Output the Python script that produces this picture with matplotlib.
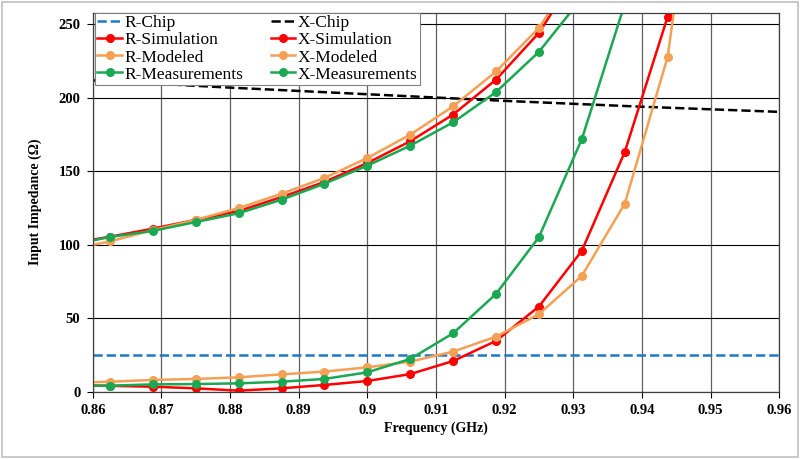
import matplotlib
matplotlib.use("Agg")
import matplotlib.pyplot as plt
from matplotlib.patches import Rectangle

# frequency points (GHz); first point sits just outside the axis and gets clipped
freq = [0.85625, 0.8625, 0.86875, 0.875, 0.88125, 0.8875, 0.89375, 0.9,
        0.90625, 0.9125, 0.91875, 0.925, 0.93125, 0.9375, 0.94375, 0.95]

r_sim = [100.5, 105.5, 111.0, 117.0, 123.0, 132.5, 142.8, 155.7,
         170.5, 188.7, 212.5, 244.3, 290.0, None, None, None]
x_sim = [4.5, 4.0, 3.4, 2.3, 0.7, 2.3, 4.6, 7.3,
         12.0, 20.9, 34.6, 58.0, 96.0, 163.2, 255.3, 400.0]

r_mod = [96.5, 102.3, 110.0, 117.0, 125.0, 134.8, 145.5, 159.1,
         175.0, 194.3, 218.0, 247.7, 292.0, None, None, None]
x_mod = [6.0, 6.8, 8.0, 8.7, 9.8, 11.8, 13.7, 16.6,
         20.5, 27.3, 37.5, 52.8, 78.9, 128.0, 228.0, 440.0]

r_meas = [99.5, 105.3, 109.5, 115.5, 121.5, 130.7, 141.6, 153.9,
          167.5, 183.4, 204.0, 231.4, 268.0, None, None, None]
x_meas = [4.0, 4.1, 5.0, 5.2, 5.7, 6.8, 8.7, 13.2,
          22.3, 39.8, 66.6, 105.3, 172.0, 264.0, None, None]

chip_freq = [0.86, 0.88, 0.90, 0.92, 0.94, 0.96]
r_chip = [25, 25, 25, 25, 25, 25]
x_chip = [212.0, 207.0, 202.5, 198.0, 194.0, 190.5]

RED = "#FF0000"
ORANGE = "#F4A055"
GREEN = "#1AA852"
BLUE = "#1F78C8"

plt.rcParams["font.family"] = ["Liberation Serif", "DejaVu Serif"]

fig = plt.figure(figsize=(8, 4.59), dpi=100)
ax = fig.add_axes([0.116, 0.1466, 0.858, 0.8257])


def clean(xs, ys):
    pts = [(a, b) for a, b in zip(xs, ys) if b is not None]
    return [p[0] for p in pts], [p[1] for p in pts]


ax.plot(chip_freq, r_chip, ls="--", color=BLUE, lw=1.8, label="R-Chip")
ax.plot(chip_freq, x_chip, ls="--", color="black", lw=1.8, label="X-Chip")

series = [
    (r_sim, RED, "R-Simulation"), (x_sim, RED, "X-Simulation"),
    (r_mod, ORANGE, "R-Modeled"), (x_mod, ORANGE, "X-Modeled"),
    (r_meas, GREEN, "R-Measurements"), (x_meas, GREEN, "X-Measurements"),
]
for vals, col, name in series:
    fx, fy = clean(freq, vals)
    ax.plot(fx, fy, color=col, lw=1.8, marker="o", ms=5.5, label=name)

ax.set_xlim(0.86, 0.96)
ax.set_ylim(0, 258)
ax.set_xticks([0.86 + 0.01 * i for i in range(11)])
ax.set_xticklabels(["0.86", "0.87", "0.88", "0.89", "0.9", "0.91", "0.92",
                    "0.93", "0.94", "0.95", "0.96"])
ax.set_yticks([0, 50, 100, 150, 200, 250])
ax.grid(True, axis="y", color="black", lw=0.8)
ax.grid(True, axis="x", color="#606060", lw=0.9)
ax.set_axisbelow(True)
ax.tick_params(direction="out", length=4, width=0.8, labelsize=10.5, pad=5)
for lab in ax.get_xticklabels() + ax.get_yticklabels():
    lab.set_fontweight("bold")
for sp in ax.spines.values():
    sp.set_color("#404040")
    sp.set_linewidth(0.9)

ax.set_xlabel("Frequency (GHz)", fontsize=10, fontweight="bold", labelpad=3)
ax.set_ylabel("Input Impedance (\u03a9)", fontsize=10, fontweight="bold", labelpad=12)

# legend: column 1 = R entries, column 2 = X entries
handles, labels = ax.get_legend_handles_labels()
order = [0, 2, 4, 6, 1, 3, 5, 7]
leg = ax.legend([handles[i] for i in order], [labels[i] for i in order],
                ncol=2, loc="upper left", bbox_to_anchor=(0.003, 1.0),
                fontsize=12.5, frameon=True, fancybox=False, framealpha=1,
                edgecolor="#808080", borderpad=0.15, labelspacing=0.05,
                handlelength=1.4, handletextpad=0.15, columnspacing=1.6,
                borderaxespad=0.0)
leg.get_frame().set_linewidth(0.8)

fig.patches.append(Rectangle((0.003, 0.005), 0.994, 0.99, transform=fig.transFigure,
                             fill=False, edgecolor="#C0C0C0", lw=1.2))

fig.savefig("out.png", dpi=100)
